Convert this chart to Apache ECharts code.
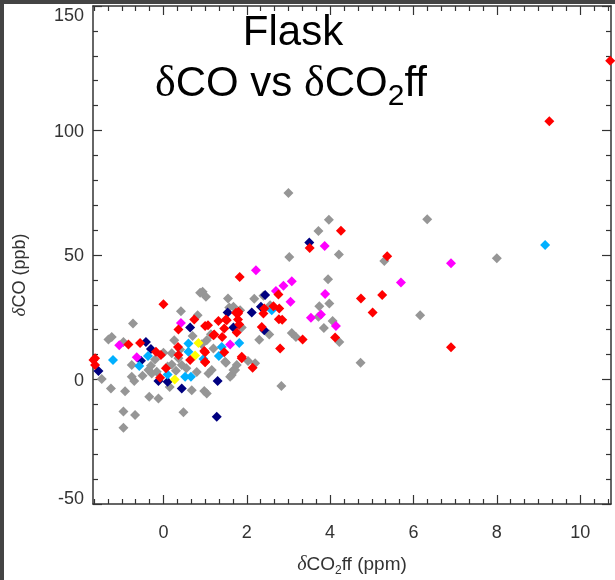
<!DOCTYPE html>
<html><head><meta charset="utf-8">
<script src="https://cdn.jsdelivr.net/npm/echarts@6/dist/echarts.min.js"></script>
<style>html,body{margin:0;padding:0;background:#fff}#c{width:615px;height:580px}</style>
</head><body><div id="c"></div>
<script>
// ---- data (δCO2ff in ppm, δCO in ppb) ----
var greyPts = [[3.0,74.9],[3.97,64.2],[3.72,59.6],[4.21,50.2],[3.02,49.2],[3.95,40.3],[3.98,30.5],[3.74,29.4],[3.72,25.2],[4.06,23.5],[3.85,20.7],[4.22,15.1],[3.08,18.7],[3.18,17.1],[2.54,18.1],[2.83,-2.6],[4.73,6.7],[6.33,64.4],[6.16,25.8],[8.0,48.7],[5.3,47.6],
[2.18,32.4],[1.55,32.5],[2.56,29.8],[2.4,33.6],[0.94,35.2],[1.02,33.2],[0.88,34.8],[1.58,28.9],[1.84,27.8],[1.88,20.9],[1.04,15.8],[2.03,7.4],[2.2,6.5],[1.5,6.7],[1.16,3.8],[1.08,2.4],[1.68,3.8],[1.64,1.8],[1.76,5.8],[0.98,-4.6],[1.04,-5.6],[0.42,27.4],[0.82,25.8],[1.14,18.2],[0.92,14.2],[-0.73,22.5],[-1.32,16.1],[-1.24,17.1],[-0.96,15.1],[0.26,15.8],[0.0,10.7],[-1.48,0.2],[-0.76,5.8],[-0.76,1.1],[-0.7,-0.6],[-1.26,-3.6],[-0.92,-4.7],[-0.34,-6.9],[-0.12,-7.6],[-0.96,-12.9],[-0.68,-14.3],[-0.96,-19.4],[-0.36,3.8],[-0.28,2.4],[-0.16,3.1],[0.36,8.5],[0.44,5.8],[0.68,-4.3],[1.6,1.1],[1.72,3.8],[1.48,7.1],[0.48,-13.2],[1.68,29.2],[-0.3,5.5],[0.2,6.0],[0.1,5.2],[0.3,3.5],[0.55,4.5],[0.2,10.5],[-0.5,1.5],[0.8,3.0],[0.4,12.0],[1.2,12.5],[0.15,-3.0],[-0.2,8.0],[2.3,16.0],[0.7,17.5]];
var navyPts = [[3.5,55],[2.44,33.9],[2.34,29.2],[2.12,26.9],[1.54,26.9],[1.68,20.9],[2.42,19.8],[0.64,20.9],[-0.42,15.1],[-0.3,12.2],[-0.54,7.5],[-1.56,3.4],[-0.12,-0.6],[0.1,-0.9],[0.44,-3.6],[1.3,-0.6],[1.28,-15]];
var cyanPts = [[9.16,54],[2.6,27.8],[1.82,14.7],[1.4,13.1],[1.33,9.4],[0.96,8.2],[0.6,14.5],[0.6,11.1],[0.52,1.1],[0.66,1.1],[0.1,2.0],[-0.37,9.4],[-0.58,5.4],[-1.21,7.8]];
var magentaPts = [[6.9,46.7],[5.7,39],[3.87,53.6],[3.88,34.3],[4.14,21.5],[3.78,26.1],[3.54,24.8],[3.05,31.2],[3.08,39.5],[2.88,37.7],[2.7,35.5],[2.22,43.9],[1.6,14.1],[0.42,22.7],[-1.06,13.8],[-0.64,8.9]];
var yellowPts = [[0.84,14.7],[0.76,9.6],[0.27,0]];
var redPts = [[10.72,128],[9.26,103.7],[6.9,13],[5.37,49.5],[5.25,33.9],[4.74,32.5],[5.02,26.9],[4.26,59.7],[3.51,52.8],[1.83,41.2],[2.76,34.1],[2.42,28.5],[2.64,29.4],[2.78,28.5],[2.77,24.2],[2.85,24.0],[4.12,16.9],[3.34,16.1],[2.8,12.5],
[1.8,27.2],[1.32,23.5],[1.5,24.1],[1.79,24.1],[1.82,22.1],[1.0,21.5],[1.07,21.8],[1.46,20.5],[1.76,18.9],[1.2,17.8],[1.41,17.1],[1.0,10.9],[1.46,10.9],[1.88,9.1],[2.14,4.7],[1.0,6.9],[1.79,26.5],[2.4,26.5],[2.36,21.1],[0.36,20.1],[0.74,24.1],[1.52,23.8],[1.22,18.1],[0.35,13.1],[0.36,9.8],[0.98,11.4],[0.0,30.2],[-0.84,14.1],[-0.56,14.7],[-0.18,11.1],[-0.06,9.8],[-1.64,8.5],[-1.68,7.8],[-1.64,5.8],[-0.08,0.7],[0.06,4.5],[0.64,7.8],[1.0,7.1],[1.88,8.5],[1.74,26.8]];

var xMajorTicks = [0, 2, 4, 6, 8, 10];
var yTickLabels = [-50, 0, 50, 100, 150];
var X_MIN = -1.69, X_MAX = 10.74, Y_MIN = -50, Y_MAX = 150;

var xMinorTicks = [];
for (var k = -5; k <= 32; k++) { if (k % 6 !== 0) xMinorTicks.push(k / 3); }

var axisColor = '#333';
var textColor = '#333';
var lineStyle = { color: axisColor, width: 1.5 };

function xAx(pos, values, len, showLine, labels) {
  return {
    type: 'value', position: pos, min: X_MIN, max: X_MAX,
    axisLine: { show: showLine, onZero: false, lineStyle: lineStyle },
    axisTick: { show: true, inside: true, length: len, customValues: values, lineStyle: { color: axisColor, width: 1.2 } },
    axisLabel: labels ? { show: true, customValues: xMajorTicks, fontSize: 18, color: textColor, margin: 20, fontFamily: 'Liberation Sans' } : { show: false },
    splitLine: { show: false }
  };
}
var lblBase = { fontSize: 18, fontFamily: 'Liberation Sans', color: textColor };
function yAx(pos, labels) {
  return {
    type: 'value', position: pos, min: Y_MIN, max: Y_MAX, interval: 50,
    axisLine: { show: true, onZero: false, lineStyle: lineStyle },
    axisTick: { show: true, inside: true, length: 9, lineStyle: { color: axisColor, width: 1.2 } },
    minorTick: { show: true, splitNumber: 5, length: 5, lineStyle: { color: axisColor, width: 1.2 } },
    axisLabel: labels ? { show: true, fontSize: 18, color: textColor, margin: 9, fontFamily: 'Liberation Sans',
      formatter: function (v) {
        if (yTickLabels.indexOf(v) < 0) return '';
        if (v === Y_MAX) return '{t|' + v + '}';
        if (v === Y_MIN) return '{b|' + v + '}';
        return '{n|' + v + '}';
      },
      rich: {
        t: Object.assign({ padding: [20, 0, 0, 0] }, lblBase),
        b: Object.assign({ padding: [0, 0, 10, 0] }, lblBase),
        n: Object.assign({ padding: [3, 0, 0, 0] }, lblBase)
      } } : { show: false },
    splitLine: { show: false }
  };
}

function sc(data, color) {
  return { type: 'scatter', data: data, symbol: 'diamond', symbolSize: 10, clip: false,
    itemStyle: { color: color, opacity: 1 }, xAxisIndex: 0, yAxisIndex: 0, silent: true, animation: false };
}

// text pieces laid out side by side (for subscripts)
var mctx = document.createElement('canvas').getContext('2d');
function pieces(list, cx) {
  var w = 0;
  list.forEach(function (p) { mctx.font = (p.italic ? 'italic ' : '') + p.size + 'px "' + p.family + '"'; p.w = mctx.measureText(p.text).width; w += p.w; });
  var x = cx - w / 2, out = [];
  list.forEach(function (p) {
    out.push({ type: 'text', x: x, y: p.y, z: 50, style: { text: p.text, fontSize: p.size, fontFamily: p.family,
      fontStyle: p.italic ? 'italic' : 'normal', fill: p.fill, align: 'left', verticalAlign: 'middle' } });
    x += p.w;
  });
  return out;
}
var S = 'Liberation Sans', R = 'Liberation Serif';
var title2 = pieces([
  { text: 'δ', size: 44, family: R, y: 84, fill: '#000' },
  { text: 'CO vs ', size: 42, family: S, y: 84, fill: '#000' },
  { text: 'δ', size: 44, family: R, y: 84, fill: '#000' },
  { text: 'CO', size: 42, family: S, y: 84, fill: '#000' },
  { text: '2', size: 30, family: S, y: 97, fill: '#000' },
  { text: 'ff', size: 42, family: S, y: 84, fill: '#000' }
], 291);
var xName = pieces([
  { text: 'δ', size: 20, family: R, italic: true, y: 565, fill: textColor },
  { text: 'CO', size: 19, family: S, y: 565, fill: textColor },
  { text: '2', size: 12, family: S, y: 571, fill: textColor },
  { text: 'ff (ppm)', size: 19, family: S, y: 565, fill: textColor }
], 352);

var chart = echarts.init(document.getElementById('c'), null, { renderer: 'canvas' });
chart.setOption({
  backgroundColor: '#fff',
  animation: false,
  grid: { left: 93, right: 4, top: 6, bottom: 76, containLabel: false },
  xAxis: [xAx('bottom', xMajorTicks, 9, true, true), xAx('bottom', xMinorTicks, 5, false, false),
          xAx('top', xMajorTicks, 9, true, false), xAx('top', xMinorTicks, 5, false, false)],
  yAxis: [yAx('left', true), yAx('right', false)],
  series: [sc(greyPts, '#969696'), sc(navyPts, '#000080'), sc(cyanPts, '#00b0ff'),
           sc(magentaPts, '#ff00ff'), sc(yellowPts, '#ffff00'), sc(redPts, '#ff0000')],
  graphic: [
    { type: 'rect', shape: { x: 0, y: 0, width: 4, height: 580 }, style: { fill: '#444' }, z: 100 },
    { type: 'rect', shape: { x: 0, y: 0, width: 615, height: 4 }, style: { fill: '#444' }, z: 100 },
    { type: 'text', x: 293, y: 33, style: { text: 'Flask', fontSize: 42, fontFamily: S, fill: '#000', align: 'center', verticalAlign: 'middle' }, z: 50 },
    { type: 'text', x: 20, y: 275, rotation: Math.PI / 2, style: {
        text: '{d|δ}{a|CO (ppb)}', align: 'center', verticalAlign: 'middle', fill: textColor,
        rich: { d: { fontSize: 19, fontFamily: R, fontStyle: 'italic', fill: textColor }, a: { fontSize: 18, fontFamily: S, fill: textColor } } } }
  ].concat(title2, xName)
});
</script></body></html>
